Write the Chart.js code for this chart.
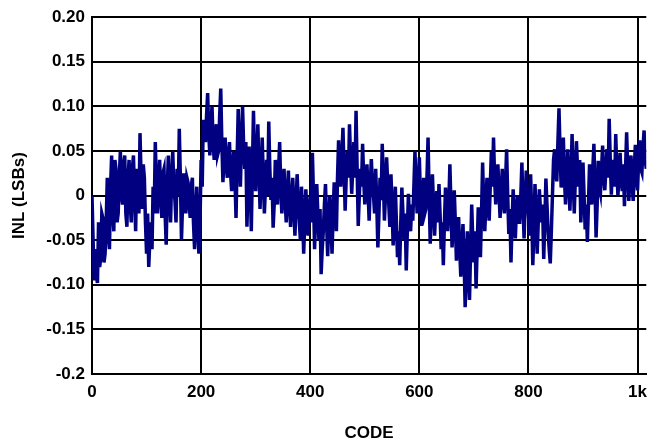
<!DOCTYPE html>
<html>
<head>
<meta charset="utf-8">
<title>INL vs Code</title>
<script src="https://cdn.jsdelivr.net/npm/chart.js@4.4.1/dist/chart.umd.min.js"></script>
<style>
  html, body { margin: 0; padding: 0; background: #ffffff; }
  #wrap { width: 655px; height: 448px; }
</style>
</head>
<body>
<div id="wrap"><canvas id="chart_inl" width="655" height="448"></canvas></div>
<script>
// codes, every 2nd code
var arrayCodes = [
  0,2,4,6,8,10,12,14,16,18,20,22,24,26,28,30,32,34,36,38,40,42,44,46,48,
  50,52,54,56,58,60,62,64,66,68,70,72,74,76,78,80,82,84,86,88,90,92,94,96,98,
  100,102,104,106,108,110,112,114,116,118,120,122,124,126,128,130,132,134,136,138,140,142,144,146,148,
  150,152,154,156,158,160,162,164,166,168,170,172,174,176,178,180,182,184,186,188,190,192,194,196,198,
  200,202,204,206,208,210,212,214,216,218,220,222,224,226,228,230,232,234,236,238,240,242,244,246,248,
  250,252,254,256,258,260,262,264,266,268,270,272,274,276,278,280,282,284,286,288,290,292,294,296,298,
  300,302,304,306,308,310,312,314,316,318,320,322,324,326,328,330,332,334,336,338,340,342,344,346,348,
  350,352,354,356,358,360,362,364,366,368,370,372,374,376,378,380,382,384,386,388,390,392,394,396,398,
  400,402,404,406,408,410,412,414,416,418,420,422,424,426,428,430,432,434,436,438,440,442,444,446,448,
  450,452,454,456,458,460,462,464,466,468,470,472,474,476,478,480,482,484,486,488,490,492,494,496,498,
  500,502,504,506,508,510,512,514,516,518,520,522,524,526,528,530,532,534,536,538,540,542,544,546,548,
  550,552,554,556,558,560,562,564,566,568,570,572,574,576,578,580,582,584,586,588,590,592,594,596,598,
  600,602,604,606,608,610,612,614,616,618,620,622,624,626,628,630,632,634,636,638,640,642,644,646,648,
  650,652,654,656,658,660,662,664,666,668,670,672,674,676,678,680,682,684,686,688,690,692,694,696,698,
  700,702,704,706,708,710,712,714,716,718,720,722,724,726,728,730,732,734,736,738,740,742,744,746,748,
  750,752,754,756,758,760,762,764,766,768,770,772,774,776,778,780,782,784,786,788,790,792,794,796,798,
  800,802,804,806,808,810,812,814,816,818,820,822,824,826,828,830,832,834,836,838,840,842,844,846,848,
  850,852,854,856,858,860,862,864,866,868,870,872,874,876,878,880,882,884,886,888,890,892,894,896,898,
  900,902,904,906,908,910,912,914,916,918,920,922,924,926,928,930,932,934,936,938,940,942,944,946,948,
  950,952,954,956,958,960,962,964,966,968,970,972,974,976,978,980,982,984,986,988,990,992,994,996,998,
  1000,1002,1004,1006,1008,1010,1012,1014,1016
];

// INL in LSBs, same order as arrayCodes
var arrayInl = [
  0.000,-0.050,-0.095,-0.060,-0.090,-0.098,-0.030,-0.080,-0.070,-0.020,-0.025,-0.075,-0.065,-0.030,0.020,-0.045,-0.060,0.010,0.045,-0.020,-0.040,0.040,0.030,-0.030,-0.020,
  0.020,0.050,0.000,-0.010,0.035,0.045,-0.020,-0.035,0.020,0.040,-0.010,-0.030,0.030,0.045,0.000,-0.040,0.030,0.010,-0.020,0.070,0.020,-0.015,0.035,0.020,-0.030,
  -0.065,-0.020,-0.080,-0.050,-0.030,-0.060,0.010,-0.020,0.060,0.015,-0.020,0.010,0.040,0.000,-0.025,0.025,0.030,-0.020,-0.055,0.010,0.045,0.000,-0.030,0.020,0.050,
  0.010,-0.005,-0.030,0.030,0.000,0.075,0.020,-0.050,-0.010,0.025,0.010,-0.020,0.020,0.015,-0.010,-0.025,0.010,0.020,-0.030,-0.060,-0.020,0.010,-0.040,-0.065,-0.030,
  0.040,0.010,0.085,0.070,0.060,0.090,0.115,0.070,0.045,0.080,0.100,0.060,0.040,0.070,0.080,0.045,0.050,0.090,0.120,0.060,0.015,0.040,0.065,0.035,0.020,
  0.045,0.060,0.025,0.005,0.035,0.050,0.020,-0.025,0.040,0.097,0.050,0.010,0.060,0.100,0.055,0.030,0.060,-0.035,0.010,0.055,0.015,-0.040,0.030,0.095,0.040,
  0.005,0.040,0.080,0.030,-0.015,0.020,0.065,0.020,-0.020,0.010,0.040,0.000,0.083,0.030,-0.005,0.020,-0.036,-0.010,0.040,0.010,-0.010,0.030,0.060,0.010,-0.020,
  0.010,0.030,-0.005,-0.030,0.000,0.028,-0.010,-0.035,-0.005,0.020,-0.015,-0.045,-0.010,0.024,-0.005,-0.030,-0.050,0.010,-0.020,-0.065,-0.030,0.007,-0.020,-0.045,-0.015,
  0.000,-0.030,0.048,0.000,-0.060,-0.020,0.013,-0.020,-0.050,-0.015,-0.088,-0.060,-0.040,-0.010,0.013,-0.030,-0.068,-0.030,0.000,-0.030,-0.065,-0.020,0.015,-0.010,-0.040,
  0.020,0.062,0.030,0.010,0.045,0.076,0.030,-0.017,0.020,0.050,0.020,0.080,0.040,0.002,0.030,0.060,0.020,0.095,0.030,-0.034,0.000,0.030,0.010,0.058,0.020,
  -0.010,0.015,0.035,0.005,-0.028,0.010,0.041,0.015,0.000,-0.020,0.030,-0.010,-0.058,-0.020,0.020,-0.005,0.058,0.020,-0.028,0.000,0.043,0.015,-0.010,-0.035,0.024,
  -0.010,-0.056,-0.020,0.010,-0.030,-0.069,-0.040,-0.078,-0.030,0.009,-0.020,-0.050,-0.020,-0.084,-0.040,0.002,-0.025,-0.040,-0.010,-0.028,0.010,0.050,0.010,-0.020,0.010,
  0.043,0.000,-0.034,-0.005,0.020,-0.020,-0.015,0.020,0.065,0.000,-0.054,-0.015,0.024,-0.010,-0.045,-0.015,0.005,-0.030,0.013,-0.020,-0.060,-0.030,-0.078,-0.030,0.009,
  -0.015,-0.040,-0.010,0.035,-0.010,-0.058,-0.030,0.006,-0.030,-0.073,-0.040,-0.024,-0.060,-0.091,-0.060,-0.032,-0.070,-0.125,-0.090,-0.040,-0.080,-0.117,-0.060,-0.010,-0.050,
  -0.075,-0.040,-0.104,-0.060,-0.013,-0.050,-0.069,-0.020,0.037,-0.010,-0.040,-0.010,0.020,-0.010,-0.028,0.010,0.049,0.010,0.065,0.020,-0.010,0.015,0.035,0.005,-0.025,
  0.000,0.030,-0.005,-0.020,0.015,0.052,0.000,-0.043,-0.015,-0.075,-0.030,0.007,-0.020,-0.048,-0.015,0.000,-0.030,-0.030,0.000,0.037,-0.010,-0.048,-0.010,0.028,-0.010,
  -0.020,-0.045,0.024,-0.020,-0.078,-0.040,0.013,-0.020,-0.065,-0.030,0.007,-0.015,-0.030,-0.010,-0.071,-0.030,0.019,-0.010,-0.040,-0.060,-0.076,-0.040,0.000,0.040,0.052,
  0.025,0.016,0.060,0.098,0.050,0.009,0.030,0.065,0.020,-0.010,0.020,0.052,0.015,-0.017,0.020,0.069,0.020,-0.020,0.020,0.061,0.030,0.010,0.040,-0.030,0.000,
  0.037,0.000,-0.038,-0.010,-0.052,-0.010,0.035,0.000,-0.010,0.030,0.058,0.010,-0.047,-0.010,0.039,0.010,0.003,0.030,0.056,0.020,0.006,0.030,0.052,0.020,0.086,
  0.040,0.001,0.040,0.030,0.010,0.069,0.030,0.000,0.020,0.048,0.020,0.005,0.035,-0.012,0.030,0.071,0.030,-0.006,0.020,0.045,0.015,-0.006,0.030,0.057,0.020,
  0.006,0.040,0.062,0.030,0.026,0.055,0.073,0.040,0.030
];

var arrayXTickValues = [0, 200, 400, 600, 800, 1000];
var arrayXTickLabels = ["0", "200", "400", "600", "800", "1k"];
var arrayYTickLabels = ["-0.2", "-0.15", "-0.10", "-0.05", "0", "0.05", "0.10", "0.15", "0.20"];

var globalChartInl;

function showChartInl() {

  var arrayPoints = [];
  for (var i = 0; i < arrayCodes.length; i++) {
    arrayPoints.push({ x: arrayCodes[i], y: arrayInl[i] });
  }

  var fontTicks = { family: "'Liberation Sans', Arial, sans-serif", size: 17, weight: "bold" };

  var config = {
    type: 'line',
    data: {
      datasets: [{
        label: "INL",
        data: arrayPoints,
        borderColor: '#000080',
        backgroundColor: '#000080',
        borderWidth: 3.5,
        pointRadius: 0,
        tension: 0,
        fill: false
      }]
    },
    options: {
      responsive: false,
      animation: false,
      layout: { padding: { left: 0, right: 0, top: 16, bottom: 0 } },
      plugins: {
        legend: { display: false },
        tooltip: { enabled: false }
      },
      scales: {
        x: {
          type: 'linear',
          min: 0,
          max: 1016,
          afterBuildTicks: function (scale) {
            scale.ticks = arrayXTickValues.map(function (v) { return { value: v }; });
          },
          afterFit: function (scale) { scale.height = 74; },
          ticks: {
            color: '#000000',
            font: fontTicks,
            padding: 8,
            maxRotation: 0,
            autoSkip: false,
            callback: function (value, index) { return arrayXTickLabels[index]; }
          },
          grid: { color: '#000000', lineWidth: 2, drawTicks: false },
          border: { color: '#000000', width: 2 },
          title: {
            display: true,
            text: 'CODE',
            color: '#000000',
            font: fontTicks,
            padding: { top: 0, bottom: 4 }
          }
        },
        y: {
          type: 'linear',
          min: -0.2,
          max: 0.2,
          afterFit: function (scale) { scale.width = 92; },
          ticks: {
            stepSize: 0.05,
            color: '#000000',
            font: fontTicks,
            padding: 7,
            callback: function (value, index) { return arrayYTickLabels[index]; }
          },
          grid: { color: '#000000', lineWidth: 2, drawTicks: false },
          border: { color: '#000000', width: 2 },
          title: {
            display: true,
            text: 'INL (LSBs)',
            color: '#000000',
            font: fontTicks,
            padding: { top: 9, bottom: 0 }
          }
        }
      }
    }
  };

  globalChartInl = new Chart(document.getElementById("chart_inl").getContext("2d"), config);
}

function load() {
  showChartInl();
}

document.addEventListener("DOMContentLoaded", load, false);
</script>
</body>
</html>
